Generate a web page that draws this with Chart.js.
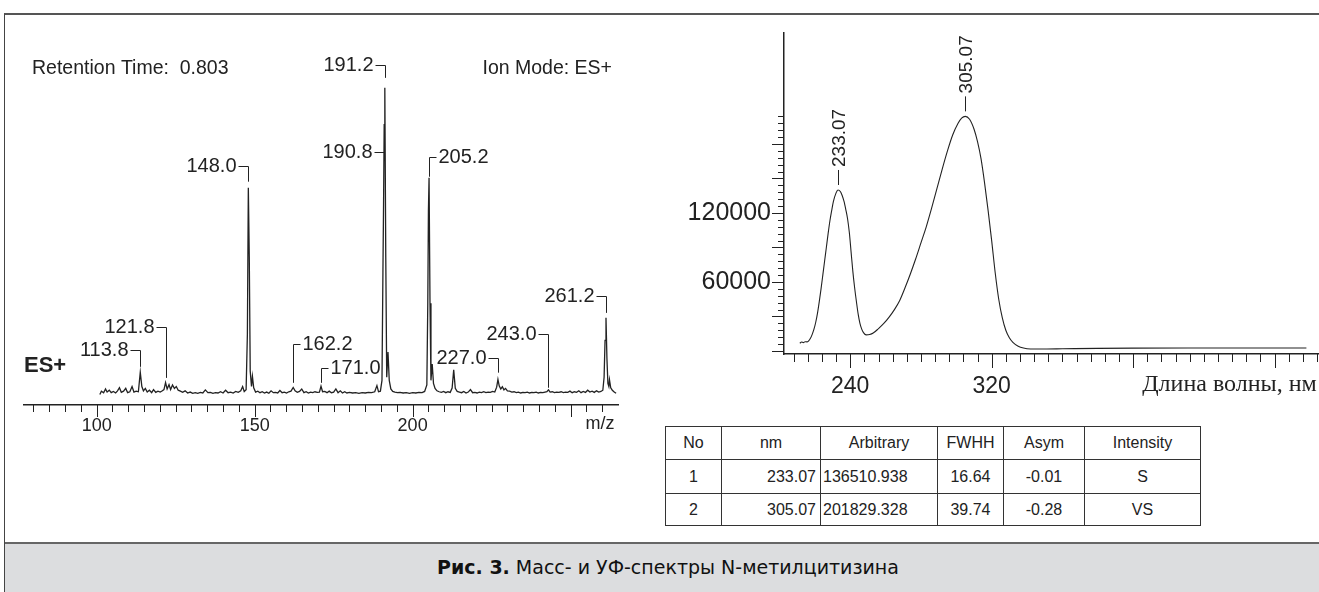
<!DOCTYPE html>
<html>
<head>
<meta charset="utf-8">
<script src="https://cdn.jsdelivr.net/npm/chart.js@4.4.0/dist/chart.umd.min.js"></script>
<style>
  body { margin: 0; width: 1319px; height: 592px; background: #fff; position: relative; overflow: hidden;
         font-family: "Liberation Sans", Arial, sans-serif; color: #222; }
  #frame { position: absolute; left: 4px; top: 13px; width: 1315px; height: 579px; box-sizing: border-box;
           border-left: 1px solid #444; border-top: 2px solid #555; }
  #ms { position: absolute; left: 0; top: 0; }
  #uv { position: absolute; left: 650px; top: 0; }
  #tbl { position: absolute; left: 665px; top: 426px; border-collapse: collapse; font-size: 16px; }
  #tbl td { border: 1px solid #333; height: 32px; padding: 0 4px; text-align: center; white-space: nowrap; }
  #cap { position: absolute; left: 5px; top: 542px; width: 1314px; height: 50px; background: #dcdddf;
         border-top: 2px solid #666; box-sizing: border-box; text-align: center; line-height: 46px;
         font-family: "DejaVu Sans", "Noto Sans", sans-serif; font-size: 19px; color: #111; }
  #cap span { display: inline-block; margin-left: 12px; }
</style>
</head>
<body>
<div id="frame"></div>
<canvas id="ms" width="650" height="440"></canvas>
<canvas id="uv" width="686" height="400"></canvas>
<table id="tbl"></table>
<div id="cap"><span><b>Рис. 3.</b> Масс- и УФ-спектры N-метилцитизина</span></div>
<script>
// ---- mass spectrum (m/z, relative intensity %) ----
const msSpectrum = [
  [101.0,0.4],[101.5,1.5],[102.2,1.0],[102.8,2.2],[103.3,1.2],[104.0,1.8],[104.6,1.0],[105.3,1.4],[106.0,0.9],
  [106.6,1.6],[107.2,2.6],[107.8,1.1],[108.5,1.5],[109.2,2.4],[109.8,1.0],[110.5,1.3],[111.2,3.0],[111.8,1.2],
  [112.5,1.5],[113.2,1.3],[113.8,7.6],[114.3,3.0],[114.8,1.6],[115.4,2.4],[116.0,1.2],[116.7,1.8],[117.4,1.0],
  [118.0,2.0],[118.7,1.1],[119.4,1.5],[120.1,1.2],[120.8,1.6],[121.3,2.0],[121.8,4.3],[122.3,2.2],[122.9,3.6],
  [123.4,2.0],[124.0,3.5],[124.6,2.4],[125.2,3.0],[125.8,1.8],[126.5,1.5],[127.2,1.1],[128.0,1.6],[128.8,0.9],
  [129.6,1.2],[130.4,0.8],[131.2,1.0],[132.0,0.8],[132.8,1.1],[133.6,0.9],[134.4,1.9],[135.2,1.0],[136.0,1.1],
  [136.8,0.8],[137.6,1.0],[138.4,0.9],[139.2,1.3],[140.0,0.9],[140.8,1.8],[141.6,1.0],[142.4,1.2],[143.2,0.9],
  [144.0,1.4],[144.8,1.1],[145.6,1.6],[146.2,3.0],[146.7,1.4],[147.3,2.0],[147.7,20],[148.0,67.5],[148.3,45],
  [148.6,8],[149.0,3],[149.3,6.3],[149.7,2.6],[150.3,1.2],[151.0,1.5],[151.7,1.0],[152.4,1.3],[153.1,0.9],
  [153.8,1.2],[154.5,0.8],[155.2,1.6],[155.9,1.0],[156.6,1.1],[157.3,0.9],[158.0,1.7],[158.7,1.0],[159.4,1.2],
  [160.1,0.9],[160.8,1.3],[161.5,1.5],[162.2,2.7],[162.8,1.6],[163.5,1.1],[164.2,1.4],[164.9,2.2],[165.6,1.0],
  [166.3,1.3],[167.0,0.9],[167.7,1.2],[168.4,1.0],[169.1,1.3],[169.8,1.1],[170.5,1.2],[171.0,3.1],[171.5,1.3],
  [172.2,1.4],[172.9,1.0],[173.6,1.5],[174.3,1.0],[175.0,1.2],[175.7,2.2],[176.4,1.0],[177.1,1.6],[177.8,0.9],
  [178.5,1.3],[179.2,0.9],[180.0,1.1],[181.0,0.9],[182.0,1.0],[183.0,0.8],[184.0,1.0],[185.0,0.9],[186.0,1.1],
  [187.0,1.0],[188.0,1.3],[188.7,3.3],[189.2,1.3],[189.8,1.5],[190.3,5],[190.6,40],[190.8,62],[191.0,88],
  [191.2,100],[191.5,45],[191.8,6],[192.2,14.2],[192.6,5],[193.1,2.2],[193.7,1.4],[194.4,1.2],[195.2,1.0],
  [196.0,1.1],[197.0,0.9],[198.0,1.0],[199.0,0.8],[200.0,1.0],[201.0,0.9],[202.0,1.1],[203.0,1.0],[203.8,1.4],
  [204.5,3.5],[204.8,30],[205.0,60],[205.2,70.8],[205.5,30],[205.8,5],[206.2,10.3],[206.6,4],[207.1,2.4],
  [207.7,1.6],[208.4,1.3],[209.1,1.1],[209.8,1.4],[210.5,1.0],[211.2,1.3],[211.9,1.1],[212.5,2.5],[213.0,8.4],
  [213.5,2.4],[214.1,1.4],[214.8,1.2],[215.5,1.0],[216.2,1.4],[216.9,0.9],[217.6,1.2],[218.3,2.0],[219.0,1.0],
  [219.7,1.1],[220.4,0.9],[221.1,1.2],[221.8,1.0],[222.5,1.3],[223.2,1.0],[223.9,1.2],[224.6,1.1],[225.3,1.4],
  [226.0,1.2],[226.6,2.8],[227.0,5.3],[227.4,3.2],[227.9,2.2],[228.4,2.9],[228.9,1.9],[229.4,2.4],[230.0,1.6],
  [230.7,1.5],[231.4,1.2],[232.1,1.3],[232.8,1.0],[233.5,1.2],[234.2,0.9],[234.9,1.1],[235.6,1.0],[236.3,1.2],
  [237.0,0.9],[237.7,1.1],[238.4,1.0],[239.1,1.2],[239.8,0.9],[240.5,1.1],[241.2,1.0],[241.9,1.2],[242.5,1.3],
  [243.0,1.9],[243.5,1.2],[244.2,1.3],[244.9,1.0],[245.6,1.2],[246.3,1.1],[247.0,1.3],[247.7,1.0],[248.4,1.2],
  [249.1,1.1],[249.8,1.5],[250.5,1.0],[251.2,1.3],[251.9,1.1],[252.6,1.6],[253.3,1.0],[254.0,1.4],[254.7,1.1],
  [255.4,1.8],[256.1,1.2],[256.8,1.5],[257.5,1.1],[258.2,1.6],[258.9,1.2],[259.6,1.4],[260.2,1.8],[260.6,6],
  [260.9,18],[261.2,25.3],[261.5,12],[261.8,4],[262.1,3],[262.3,5.2],[262.7,2.6],[263.2,1.8],[263.8,1.2],[264.4,0.8]
];
// labelled peaks: m/z, text level and bracket end (intensity units), text side
const msPeakMz    = [113.8, 121.8, 148.0, 162.2, 171.0, 190.8, 191.2, 205.2, 227.0, 243.0, 261.2];
const msLabelAt   = [14.8, 22.4, 74.7, 16.9, 8.9, 79.2, 107.5, 77.4, 12.3, 19.9, 32.5];
const msLabelEnd  = [9.4, 5.8, 69.5, 4.2, 4.2, null, 103.2, 71.1, 7.5, 2.6, 26.9];
const msLabelSide = ['L', 'L', 'L', 'R', 'R', 'L', 'L', 'R', 'L', 'L', 'L'];
const msTicks = [];
for (let v = 80; v <= 260; v += 5) msTicks.push(v);
const msTickLabels = [100, 150, 200];

// ---- UV spectrum (nm, arbitrary units) ----
const uvNm = [211.5, 212.5, 213.5, 214.5, 215.5, 216.5, 217.5, 218.5, 219.5, 220.5, 221.5, 222.5, 223.5, 224.5,
  225.5, 226.5, 227.5, 228.5, 229.5, 230.5, 232, 233.07, 234.5, 235.5, 236.5, 237.5, 238.5, 239.5, 240.5, 241.5,
  242.5, 243.5, 244.5, 245.5, 246.5, 247.5, 249, 251, 253, 256, 259, 262, 265, 268, 271, 274, 277, 280, 283, 286,
  289, 292, 295, 298, 301, 303, 305.07, 307.5, 310, 312, 314, 316, 318, 320, 322, 324, 326, 328, 330, 332, 335,
  338, 342, 350, 360, 380, 400, 440, 498];
const uvAbs = [6800, 7800, 7300, 8100, 7900, 8800, 11000, 14500, 19000, 25000, 33000, 43000, 54000, 66000,
  78000, 90000, 102000, 113000, 122000, 130000, 137500, 140000, 138500, 135000, 130000, 123000, 115000, 103000, 86000, 69000,
  55000, 43000, 32000, 24000, 19000, 16000, 14000, 14300, 15600, 19500, 24000, 29500, 36000, 44000, 55000, 67000, 80000, 94000, 108000, 124000,
  141000, 158000, 174000, 188000, 198000, 202500, 204000, 201500, 193000, 182000, 167000, 146000, 122000, 96000, 68000, 45000, 29000, 18000, 11500, 7500, 4200,
  2600, 1800, 1700, 1900, 2300, 2500, 2600, 2600];
const uvPeakNm = [233.07, 305.07];
const uvPeakAbs = [140000, 204000];
const uvXTicks = [];
for (let v = 208; v <= 504; v += 8) uvXTicks.push(v);
const uvXTickLabels = [240, 320];
const uvYTicks = [];
for (let v = 0; v <= 204000; v += 6000) uvYTicks.push(v);
const uvYTickLabels = [60000, 120000];

// ---- peak table ----
const tableHead = ['No', 'nm', 'Arbitrary', 'FWHH', 'Asym', 'Intensity'];
const tableRows = [
  ['1', '233.07', '136510.938', '16.64', '-0.01', 'S'],
  ['2', '305.07', '201829.328', '39.74', '-0.28', 'VS']
];

const ink = '#222';
const sans = '"Liberation Sans", Arial, sans-serif';

const msDecor = {
  id: 'msDecor',
  afterDraw(chart) {
    const { ctx, chartArea: a, scales: { x, y } } = chart;
    ctx.save();
    ctx.strokeStyle = ink; ctx.fillStyle = ink; ctx.lineWidth = 1;
    ctx.beginPath();
    msTicks.forEach(v => {
      const px = Math.round(x.getPixelForValue(v)) + 0.5;
      ctx.moveTo(px, a.bottom); ctx.lineTo(px, a.bottom + (v % 50 === 0 ? 12 : 7));
    });
    ctx.stroke();

    ctx.font = '20px ' + sans; ctx.textBaseline = 'middle';
    msPeakMz.forEach((m, i) => {
      const px = Math.round(x.getPixelForValue(m)) + 0.5;
      const ty = Math.round(y.getPixelForValue(msLabelAt[i])) + 0.5;
      const txt = m.toFixed(1);
      ctx.beginPath();
      if (msLabelSide[i] === 'L') {
        ctx.textAlign = 'right'; ctx.fillText(txt, px - 12, ty);
        ctx.moveTo(px - 10, ty); ctx.lineTo(px, ty);
      } else {
        ctx.textAlign = 'left'; ctx.fillText(txt, px + 9, ty);
        ctx.moveTo(px + 7, ty); ctx.lineTo(px, ty);
      }
      if (msLabelEnd[i] !== null) ctx.lineTo(px, y.getPixelForValue(msLabelEnd[i]));
      ctx.stroke();
    });

    ctx.font = '19.5px ' + sans;
    ctx.textAlign = 'left'; ctx.fillText('Retention Time:  0.803', 32, 69);
    ctx.textAlign = 'right'; ctx.fillText('Ion Mode: ES+', 612, 69);
    ctx.font = '18px ' + sans; ctx.textAlign = 'center';
    ctx.fillText('m/z', 600, 424);
    ctx.font = 'bold 22px ' + sans; ctx.textAlign = 'left';
    ctx.fillText('ES+', 24, 366);
    ctx.restore();
  }
};

new Chart(document.getElementById('ms'), {
  type: 'line',
  data: {
    datasets: [{
      data: msSpectrum.map(p => ({ x: p[0], y: p[1] })),
      borderColor: ink, borderWidth: 1.3, pointRadius: 0, tension: 0
    }]
  },
  options: {
    responsive: false, animation: false, devicePixelRatio: 1,
    layout: { padding: { left: 24, right: 32, top: 60, bottom: 0 } },
    plugins: { legend: { display: false }, tooltip: { enabled: false } },
    scales: {
      x: {
        type: 'linear', min: 77, max: 265,
        afterFit: s => { s.height = 35; },
        afterBuildTicks: s => { s.ticks = msTicks.map(v => ({ value: v })); },
        grid: { display: false, drawTicks: false },
        border: { display: true, color: ink, width: 1.5 },
        ticks: { autoSkip: false, maxRotation: 0, padding: 10, color: ink, font: { size: 18, family: sans },
                 callback: v => msTickLabels.includes(v) ? String(v) : '' }
      },
      y: { display: false, min: -3, max: 109 }
    }
  },
  plugins: [msDecor]
});

const uvDecor = {
  id: 'uvDecor',
  afterDraw(chart) {
    const { ctx, chartArea: a, scales: { x, y } } = chart;
    ctx.save();
    ctx.strokeStyle = ink; ctx.fillStyle = ink; ctx.lineWidth = 1;
    ctx.beginPath();
    uvXTicks.forEach(v => {
      const px = Math.round(x.getPixelForValue(v)) + 0.5;
      ctx.moveTo(px, a.bottom); ctx.lineTo(px, a.bottom + ((v - 240) % 80 === 0 ? 14 : 8));
    });
    uvYTicks.forEach(v => {
      const py = Math.round(y.getPixelForValue(v)) + 0.5;
      ctx.moveTo(a.left, py); ctx.lineTo(a.left - (v % 30000 === 0 ? 12 : 6), py);
    });
    ctx.stroke();

    ctx.font = '19px ' + sans; ctx.textBaseline = 'middle'; ctx.textAlign = 'left';
    uvPeakNm.forEach((nm, i) => {
      const px = Math.round(x.getPixelForValue(nm)) + 0.5;
      const top = y.getPixelForValue(uvPeakAbs[i]) - 5;
      ctx.beginPath(); ctx.moveTo(px, top); ctx.lineTo(px, top - 15); ctx.stroke();
      ctx.save();
      ctx.translate(px + 1, top - 18); ctx.rotate(-Math.PI / 2);
      ctx.fillText(nm.toFixed(2), 0, 0);
      ctx.restore();
    });

    ctx.font = '24px "Liberation Serif", "Times New Roman", serif';
    ctx.textAlign = 'right';
    ctx.fillText('Длина волны, нм', a.right - 2, 385);
    ctx.restore();
  }
};

new Chart(document.getElementById('uv'), {
  type: 'line',
  data: {
    datasets: [{
      data: uvNm.map((nm, i) => ({ x: nm, y: uvAbs[i] })),
      borderColor: ink, borderWidth: 1.1, pointRadius: 0, cubicInterpolationMode: 'monotone'
    }]
  },
  options: {
    responsive: false, animation: false, devicePixelRatio: 1,
    layout: { padding: { left: 0, right: 0, top: 33, bottom: 0 } },
    plugins: { legend: { display: false }, tooltip: { enabled: false } },
    scales: {
      x: {
        type: 'linear', min: 202.55, max: 505,
        afterFit: s => { s.height = 46; },
        afterBuildTicks: s => { s.ticks = uvXTicks.map(v => ({ value: v })); },
        grid: { display: false, drawTicks: false },
        border: { display: true, color: ink, width: 1.5 },
        ticks: { autoSkip: false, maxRotation: 0, padding: 19, color: ink, font: { size: 23, family: sans },
                 callback: v => uvXTickLabels.includes(v) ? String(v) : '' }
      },
      y: {
        type: 'linear', min: -2609, max: 276500,
        afterFit: s => { s.width = 134; },
        afterBuildTicks: s => { s.ticks = uvYTicks.map(v => ({ value: v })); },
        grid: { display: false, drawTicks: false },
        border: { display: true, color: ink, width: 1.5 },
        ticks: { autoSkip: false, padding: 13, color: ink, font: { size: 25, family: sans },
                 callback: v => uvYTickLabels.includes(v) ? String(v) : '' }
      }
    }
  },
  plugins: [uvDecor]
});

// table
const tbl = document.getElementById('tbl');
const colW = [56, 99, 117, 66, 81, 116];
const rowH = [33, 34, 32];
[tableHead].concat(tableRows).forEach((row, r) => {
  const tr = document.createElement('tr');
  row.forEach((cell, c) => {
    const td = document.createElement('td');
    td.textContent = cell;
    td.style.width = (colW[c] - 9) + 'px';
    td.style.height = (rowH[r] - 1) + 'px';
    if (r > 0 && c === 1) td.style.textAlign = 'right';
    if (r > 0 && c === 2) { td.style.textAlign = 'left'; td.style.paddingLeft = '2px'; }
    tr.appendChild(td);
  });
  tbl.appendChild(tr);
});
</script>
</body>
</html>
